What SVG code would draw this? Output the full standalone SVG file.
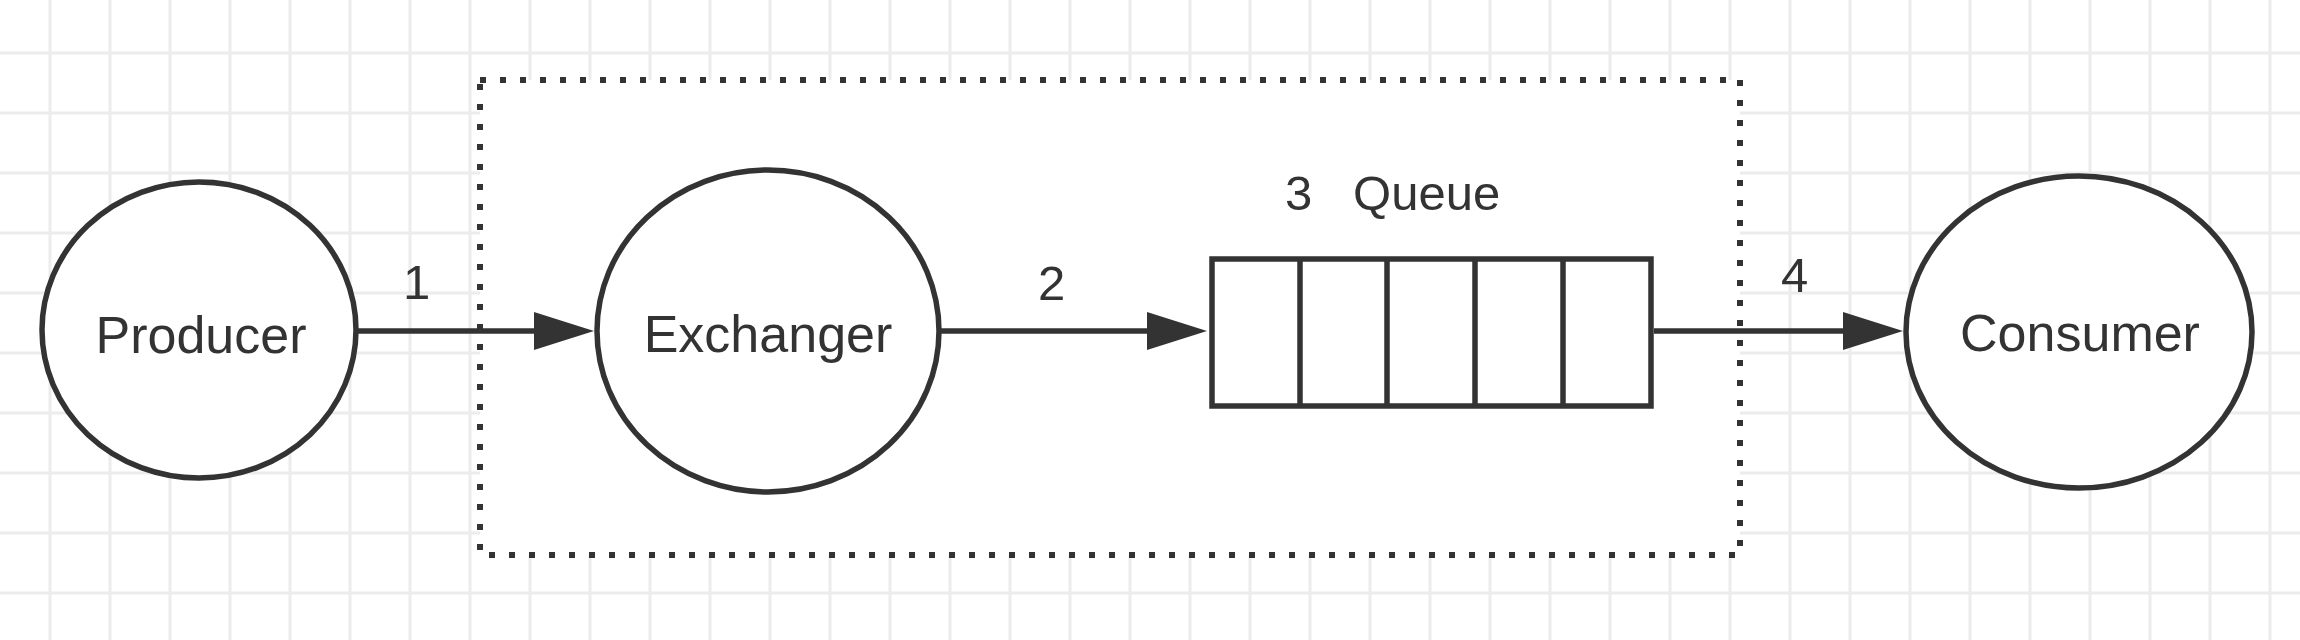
<svg xmlns="http://www.w3.org/2000/svg" width="2300" height="640" viewBox="0 0 2300 640">
<style>
.grid line{stroke:#ececec;stroke-width:3}
.node{fill:#ffffff;stroke:#333333;stroke-width:5.5}
.lbl{font-family:"Liberation Sans",Arial,Helvetica,sans-serif;font-size:52px;fill:#333333;text-anchor:middle}
.num{font-family:"Liberation Sans",Arial,Helvetica,sans-serif;font-size:49px;fill:#333333}
.edge{stroke:#333333;stroke-width:5.5;fill:none}
.boundary{fill:#ffffff;stroke:#333333;stroke-width:6;stroke-dasharray:6 14}
</style>
<defs>
<marker id="arrow" viewBox="0 0 60 38" refX="0" refY="19" markerWidth="60" markerHeight="38" markerUnits="userSpaceOnUse" orient="auto">
<path d="M0,0 L60,19 L0,38 Z" fill="#333333"/>
</marker>
</defs>
<rect width="2300" height="640" fill="#ffffff"/>
<g class="grid">
<line x1="50" y1="0" x2="50" y2="640"/><line x1="110" y1="0" x2="110" y2="640"/><line x1="170" y1="0" x2="170" y2="640"/><line x1="230" y1="0" x2="230" y2="640"/><line x1="290" y1="0" x2="290" y2="640"/><line x1="350" y1="0" x2="350" y2="640"/><line x1="410" y1="0" x2="410" y2="640"/><line x1="470" y1="0" x2="470" y2="640"/><line x1="530" y1="0" x2="530" y2="640"/><line x1="590" y1="0" x2="590" y2="640"/><line x1="650" y1="0" x2="650" y2="640"/><line x1="710" y1="0" x2="710" y2="640"/><line x1="770" y1="0" x2="770" y2="640"/><line x1="830" y1="0" x2="830" y2="640"/><line x1="890" y1="0" x2="890" y2="640"/><line x1="950" y1="0" x2="950" y2="640"/><line x1="1010" y1="0" x2="1010" y2="640"/><line x1="1070" y1="0" x2="1070" y2="640"/><line x1="1130" y1="0" x2="1130" y2="640"/><line x1="1190" y1="0" x2="1190" y2="640"/><line x1="1250" y1="0" x2="1250" y2="640"/><line x1="1310" y1="0" x2="1310" y2="640"/><line x1="1370" y1="0" x2="1370" y2="640"/><line x1="1430" y1="0" x2="1430" y2="640"/><line x1="1490" y1="0" x2="1490" y2="640"/><line x1="1550" y1="0" x2="1550" y2="640"/><line x1="1610" y1="0" x2="1610" y2="640"/><line x1="1670" y1="0" x2="1670" y2="640"/><line x1="1730" y1="0" x2="1730" y2="640"/><line x1="1790" y1="0" x2="1790" y2="640"/><line x1="1850" y1="0" x2="1850" y2="640"/><line x1="1910" y1="0" x2="1910" y2="640"/><line x1="1970" y1="0" x2="1970" y2="640"/><line x1="2030" y1="0" x2="2030" y2="640"/><line x1="2090" y1="0" x2="2090" y2="640"/><line x1="2150" y1="0" x2="2150" y2="640"/><line x1="2210" y1="0" x2="2210" y2="640"/><line x1="2270" y1="0" x2="2270" y2="640"/>
<line x1="0" y1="53" x2="2300" y2="53"/><line x1="0" y1="113" x2="2300" y2="113"/><line x1="0" y1="173" x2="2300" y2="173"/><line x1="0" y1="233" x2="2300" y2="233"/><line x1="0" y1="293" x2="2300" y2="293"/><line x1="0" y1="353" x2="2300" y2="353"/><line x1="0" y1="413" x2="2300" y2="413"/><line x1="0" y1="473" x2="2300" y2="473"/><line x1="0" y1="533" x2="2300" y2="533"/><line x1="0" y1="593" x2="2300" y2="593"/>
</g>
<g id="broker">
<rect class="boundary" x="480" y="80" width="1260" height="475"/>
</g>
<g id="producer">
<ellipse class="node" cx="199" cy="330" rx="157" ry="148"/>
<text class="lbl" x="201" y="353">Producer</text>
</g>
<g id="exchanger">
<ellipse class="node" cx="768" cy="331" rx="171" ry="161"/>
<text class="lbl" x="768" y="352">Exchanger</text>
</g>
<g id="queue">
<rect class="node" x="1212" y="259" width="439" height="147"/>
<line class="edge" x1="1300" y1="259" x2="1300" y2="406"/>
<line class="edge" x1="1387" y1="259" x2="1387" y2="406"/>
<line class="edge" x1="1475" y1="259" x2="1475" y2="406"/>
<line class="edge" x1="1563" y1="259" x2="1563" y2="406"/>
<text class="num" x="1285" y="210" xml:space="preserve">3   Queue</text>
</g>
<g id="consumer">
<ellipse class="node" cx="2079" cy="332" rx="173" ry="156"/>
<text class="lbl" x="2080" y="351">Consumer</text>
</g>
<g id="connectors">
<line class="edge" x1="357" y1="331" x2="534" y2="331" marker-end="url(#arrow)"/>
<line class="edge" x1="940" y1="331" x2="1147" y2="331" marker-end="url(#arrow)"/>
<line class="edge" x1="1654" y1="331" x2="1843" y2="331" marker-end="url(#arrow)"/>
<text class="num" x="403" y="299">1</text>
<text class="num" x="1038" y="300">2</text>
<text class="num" x="1781" y="292">4</text>
</g>
</svg>
